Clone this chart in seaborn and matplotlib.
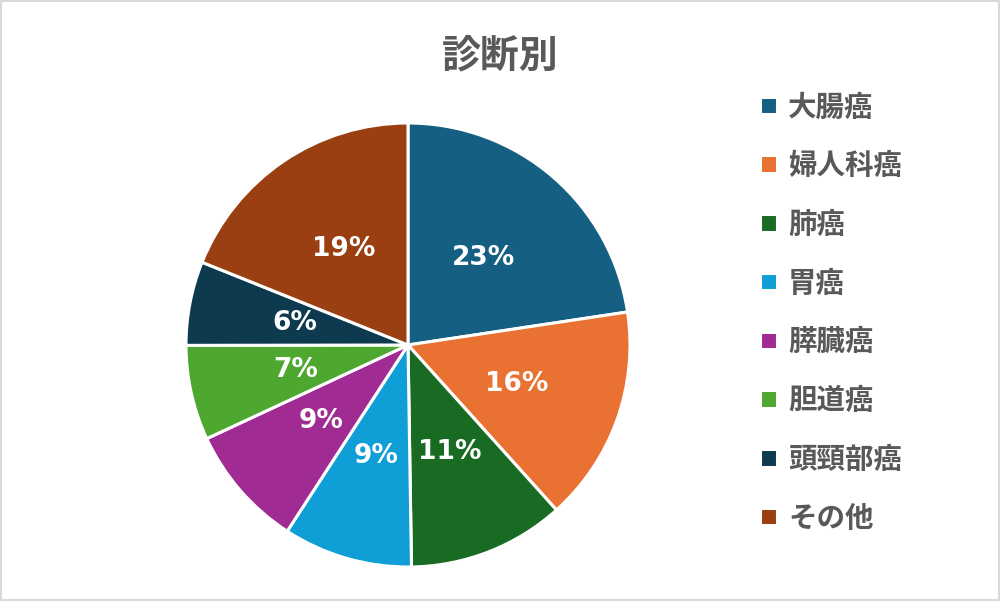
import matplotlib
matplotlib.use("Agg")
import matplotlib.pyplot as plt
import seaborn as sns
from matplotlib.patches import Rectangle

# データ
categories = ["大腸癌", "婦人科癌", "肺癌", "胃癌", "膵臓癌", "胆道癌", "頭頸部癌", "その他"]
values = [22.6, 15.7, 11.4, 9.4, 8.9, 6.9, 6.1, 18.9]
colors = ["#156082", "#E97132", "#196B24", "#0F9ED5", "#A02B93", "#4EA72E", "#0D3A4E", "#993F11"]

sns.set_style("white")
plt.rcParams['font.family'] = ['Noto Sans CJK JP', 'DejaVu Sans']

fig = plt.figure(figsize=(10, 6.01), dpi=100)
fig.patch.set_facecolor("white")

# 円グラフ (中心 約408,345 / 半径 約222px)
ax = fig.add_axes([186 / 1000, 34 / 601, 444 / 1000, 444 / 601])
wedges, texts, autotexts = ax.pie(
    values, colors=colors, startangle=90, counterclock=False,
    autopct="%.0f%%", pctdistance=0.52,
    wedgeprops=dict(edgecolor="white", linewidth=2.2),
    textprops=dict(color="white", fontsize=19, fontweight="bold"),
)
for t in autotexts:
    t.set_family("DejaVu Sans")
ax.set_aspect("equal")
ax.set_xlim(-1, 1)
ax.set_ylim(-1, 1)
ax.axis("off")

# タイトル
fig.text(0.5, 1 - 56 / 601, "診断別", ha="center", va="center",
         fontsize=28, fontweight="bold", color="#595959")

# 凡例
leg = fig.legend(wedges, categories, loc="upper left",
                 bbox_to_anchor=(749 / 1000, 1 - 82 / 601),
                 frameon=False, fontsize=20.5, labelcolor="#595959",
                 handlelength=0.57, handleheight=0.57, handletextpad=0.4,
                 labelspacing=1.08, borderaxespad=0)
for txt in leg.get_texts():
    txt.set_fontweight("bold")

# 外枠
fig.patches.append(Rectangle((0.001, 0.001), 0.998, 0.997, transform=fig.transFigure,
                             fill=False, edgecolor="#D9D9D9", linewidth=1.5))

fig.savefig("out.png", dpi=100)
